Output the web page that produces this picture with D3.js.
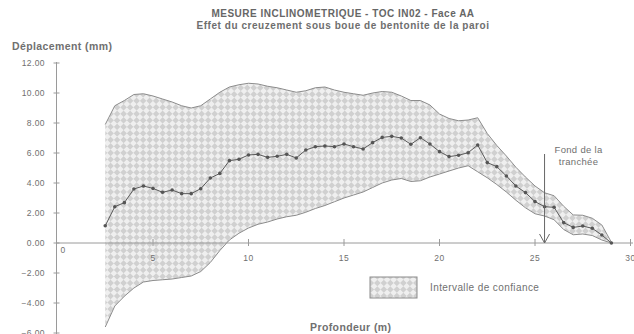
<!DOCTYPE html>
<html>
<head>
<meta charset="utf-8">
<script src="https://cdn.jsdelivr.net/npm/d3@7/dist/d3.min.js"></script>
<style>
  html, body { margin: 0; padding: 0; background: #fff; }
  svg { display: block; font-family: "Liberation Sans", Arial, Helvetica, sans-serif; }
</style>
</head>
<body>
<svg id="chart" width="634" height="334"></svg>
<script>
// Profondeur (m), tous les 0.5 m
const depths = d3.range(2.5, 29.01, 0.5);
// Déplacement mesuré (mm)
const displacement = [
  1.15, 2.42, 2.69, 3.60, 3.80, 3.64, 3.38, 3.53, 3.29, 3.29, 3.62, 4.33, 4.64,
  5.49, 5.58, 5.87, 5.91, 5.71, 5.78, 5.91, 5.67, 6.20, 6.42, 6.47, 6.42, 6.60,
  6.42, 6.27, 6.69, 7.04, 7.11, 7.00, 6.58, 7.02, 6.60, 6.09, 5.76, 5.85, 6.02,
  6.53, 5.36, 5.09, 4.47, 3.80, 3.36, 2.76, 2.42, 2.38, 1.36, 1.04, 1.13, 0.98,
  0.53, 0.00
];
// Borne supérieure de l'intervalle de confiance (mm)
const upperBound = [
  7.90, 9.15, 9.50, 9.90, 9.95, 9.80, 9.60, 9.40, 9.15, 9.00, 9.15, 9.60, 10.05,
  10.40, 10.55, 10.65, 10.60, 10.45, 10.35, 10.20, 10.05, 10.15, 10.35, 10.40, 10.20, 10.05,
  9.95, 9.85, 10.00, 10.10, 10.05, 9.80, 9.50, 9.50, 9.20, 8.60, 8.30, 8.15, 8.20,
  8.35, 7.30, 6.50, 5.80, 5.05, 4.40, 3.80, 3.35, 3.15, 2.45, 1.87, 1.85, 1.65,
  1.20, 0.05
];
// Borne inférieure de l'intervalle de confiance (mm)
const lowerBound = [
  -5.60, -4.20, -3.55, -3.00, -2.60, -2.50, -2.45, -2.40, -2.30, -2.20, -1.90, -1.30, -0.50,
  0.20, 0.65, 1.00, 1.25, 1.40, 1.60, 1.75, 1.85, 2.05, 2.30, 2.50, 2.75, 3.00,
  3.20, 3.40, 3.70, 4.00, 4.20, 4.30, 4.10, 4.15, 4.40, 4.60, 4.80, 5.00, 5.15,
  4.75, 4.35, 3.90, 3.40, 2.85, 2.35, 1.95, 1.80, 1.55, 0.90, 0.55, 0.60, 0.50,
  0.20, 0.00
];
const yTicks = [12, 10, 8, 6, 4, 2, 0, -2, -4, -6];
const xTicks = [5, 10, 15, 20, 25, 30];
const trenchDepth = 25.5;

const svg = d3.select("#chart");
const x = d3.scaleLinear().domain([0, 30]).range([57.5, 630.5]);
const y = d3.scaleLinear().domain([-6, 12]).range([333, 63]);

const axisColor = "#9a9a9a";
const textColor = "#707070";

// Motif en damier incliné pour l'intervalle de confiance
const defs = svg.append("defs");
const cell = 4.6;
const pat = defs.append("pattern")
  .attr("id", "hatch")
  .attr("patternUnits", "userSpaceOnUse")
  .attr("width", cell * 2).attr("height", cell * 2)
  .attr("patternTransform", "rotate(45)");
pat.append("rect").attr("width", cell * 2).attr("height", cell * 2).attr("fill", "#efefef");
pat.append("rect").attr("width", cell).attr("height", cell).attr("fill", "#d0d0d0");
pat.append("rect").attr("x", cell).attr("y", cell).attr("width", cell).attr("height", cell).attr("fill", "#d0d0d0");

const rows = depths.map((d, i) => ({ d, v: displacement[i], hi: upperBound[i], lo: lowerBound[i] }));

// Zone de l'intervalle de confiance
svg.append("path")
  .datum(rows)
  .attr("fill", "url(#hatch)")
  .attr("d", d3.area().x(r => x(r.d)).y0(r => y(r.lo)).y1(r => y(r.hi)));

// Bords de la zone
const edge = acc => d3.line().x(r => x(r.d)).y(r => y(acc(r)));
svg.append("path").datum(rows).attr("fill", "none").attr("stroke", "#8c8c8c").attr("stroke-width", 1)
  .attr("d", edge(r => r.hi));
svg.append("path").datum(rows).attr("fill", "none").attr("stroke", "#8c8c8c").attr("stroke-width", 1)
  .attr("d", edge(r => r.lo));

// Axe horizontal (y = 0)
svg.append("line")
  .attr("x1", x(0) - 1).attr("x2", 633)
  .attr("y1", y(0)).attr("y2", y(0))
  .attr("stroke", axisColor).attr("stroke-width", 1);
svg.selectAll(".xtick").data(xTicks).enter().append("line")
  .attr("x1", d => x(d)).attr("x2", d => x(d))
  .attr("y1", y(0) - 4).attr("y2", y(0) + 3)
  .attr("stroke", axisColor);
svg.selectAll(".xlab").data(xTicks).enter().append("text")
  .attr("x", d => x(d)).attr("y", y(0) + 18)
  .attr("text-anchor", "middle")
  .attr("font-size", 8.5).attr("letter-spacing", 0.4).attr("fill", textColor)
  .text(d => d);
svg.append("text")
  .attr("x", x(0) + 3).attr("y", y(0) + 10)
  .attr("font-size", 8.5).attr("fill", textColor)
  .text("0");

// Axe vertical
svg.append("line")
  .attr("x1", x(0) - 1).attr("x2", x(0) - 1)
  .attr("y1", y(12) - 1).attr("y2", 334)
  .attr("stroke", axisColor).attr("stroke-width", 1);
svg.selectAll(".ytick").data(yTicks).enter().append("line")
  .attr("x1", x(0) - 4).attr("x2", x(0) + 2)
  .attr("y1", d => y(d)).attr("y2", d => y(d))
  .attr("stroke", axisColor);
svg.selectAll(".ylab").data(yTicks).enter().append("text")
  .attr("x", 45).attr("y", d => y(d) + 3)
  .attr("text-anchor", "end")
  .attr("font-size", 8.5).attr("letter-spacing", 0.4).attr("fill", textColor)
  .text(d => d3.format(".2f")(d));

// Courbe de déplacement
svg.append("path").datum(rows)
  .attr("fill", "none").attr("stroke", "#5a5a5a").attr("stroke-width", 1)
  .attr("d", d3.line().x(r => x(r.d)).y(r => y(r.v)));
svg.selectAll(".pt").data(rows).enter().append("circle")
  .attr("cx", r => x(r.d)).attr("cy", r => y(r.v))
  .attr("r", 1.8).attr("fill", "#555");

// Fond de la tranchée
const tx = x(trenchDepth);
svg.append("line")
  .attr("x1", tx).attr("x2", tx).attr("y1", 154).attr("y2", y(0))
  .attr("stroke", "#666").attr("stroke-width", 1);
svg.append("path")
  .attr("d", `M${tx - 5},${y(0) - 9} L${tx},${y(0)} L${tx + 5},${y(0) - 9}`)
  .attr("fill", "none").attr("stroke", "#666").attr("stroke-width", 1);
svg.append("text").attr("x", tx + 34).attr("y", 153)
  .attr("text-anchor", "middle").attr("font-size", 9.5).attr("letter-spacing", 0.3).attr("fill", textColor)
  .text("Fond de la");
svg.append("text").attr("x", tx + 34).attr("y", 165)
  .attr("text-anchor", "middle").attr("font-size", 9.5).attr("letter-spacing", 0.3).attr("fill", textColor)
  .text("tranchée");

// Légende
svg.append("rect")
  .attr("x", 370).attr("y", 277).attr("width", 47).attr("height", 21)
  .attr("fill", "url(#hatch)").attr("stroke", "#8c8c8c");
svg.append("text").attr("x", 430).attr("y", 291)
  .attr("font-size", 10).attr("letter-spacing", 0.4).attr("fill", textColor)
  .text("Intervalle de confiance");

// Titres
svg.append("text").attr("x", 343).attr("y", 17)
  .attr("text-anchor", "middle").attr("font-size", 10).attr("font-weight", "bold")
  .attr("letter-spacing", 0.5).attr("fill", "#666")
  .text("MESURE INCLINOMETRIQUE - TOC IN02 - Face AA");
svg.append("text").attr("x", 343).attr("y", 29)
  .attr("text-anchor", "middle").attr("font-size", 10).attr("font-weight", "bold")
  .attr("letter-spacing", 0.55).attr("fill", "#6e6e6e")
  .text("Effet du creuzement sous boue de bentonite de la paroi");
svg.append("text").attr("x", 12).attr("y", 50)
  .attr("font-size", 10.5).attr("font-weight", "bold").attr("letter-spacing", 0.4).attr("fill", "#707070")
  .text("Déplacement (mm)");
svg.append("text").attr("x", 310).attr("y", 331)
  .attr("font-size", 10.5).attr("font-weight", "bold").attr("letter-spacing", 0.4).attr("fill", "#707070")
  .text("Profondeur (m)");
</script>
</body>
</html>
